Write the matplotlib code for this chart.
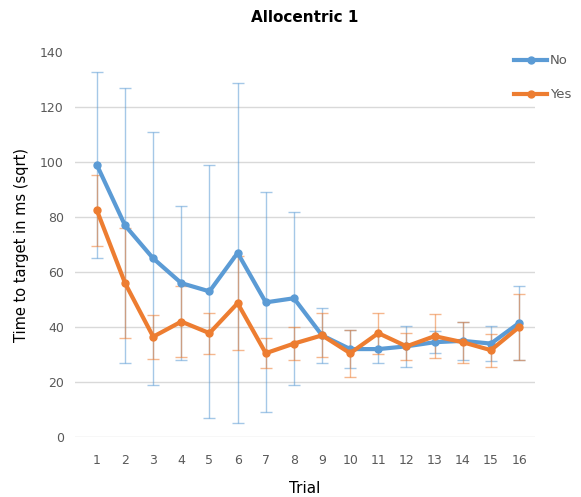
import matplotlib.pyplot as plt
from matplotlib.lines import Line2D

trials = list(range(1, 17))
no_mean = [99, 77, 65, 56, 53, 67, 49, 50.5, 37, 32, 32, 33, 34.5, 35, 34, 41.5]
no_err = [34, 50, 46, 28, 46, 62, 40, 31.5, 10, 7, 5, 7.5, 4, 7, 6.5, 13.5]
yes_mean = [82.5, 56, 36.5, 42, 37.8, 48.7, 30.5, 34, 37, 30.5, 37.8, 33, 36.7, 34.5, 31.6, 40]
yes_err = [13, 20, 8, 13, 7.5, 17, 5.5, 6, 8, 8.5, 7.5, 5, 8, 7.5, 6, 12]

blue = '#5B9BD5'
orange = '#ED7D31'

fig = plt.figure(figsize=(5.81, 4.97), dpi=100)
ax = fig.add_axes([0.129, 0.1207, 0.792, 0.774])

ax.errorbar(trials, no_mean, yerr=no_err, fmt='none', ecolor=blue, alpha=0.55,
            elinewidth=1, capsize=4, capthick=1)
ax.errorbar(trials, yes_mean, yerr=yes_err, fmt='none', ecolor=orange, alpha=0.55,
            elinewidth=1, capsize=4, capthick=1)
ax.plot(trials, no_mean, color=blue, lw=3, marker='o', ms=5, label='No')
ax.plot(trials, yes_mean, color=orange, lw=3, marker='o', ms=5, label='Yes')

ax.set_xlim(0.22, 16.57)
ax.set_ylim(0, 140)
ax.set_yticks(range(0, 141, 20))
ax.set_xticks(trials)
ax.grid(axis='y', color='#d9d9d9', lw=1)
ax.get_ygridlines()[-1].set_visible(False)
ax.set_axisbelow(True)
for s in ax.spines.values():
    s.set_visible(False)
ax.tick_params(length=0, labelsize=9, colors='#595959', pad=8)
ax.tick_params(axis='x', pad=12)

ax.set_title('Allocentric 1', fontsize=11, fontweight='bold', pad=22)
ax.set_xlabel('Trial', fontsize=11, labelpad=10)
ax.set_ylabel('Time to target in ms (sqrt)', fontsize=10.5, labelpad=8)

handles = [Line2D([], [], color=blue, lw=3, marker='o', ms=5),
           Line2D([], [], color=orange, lw=3, marker='o', ms=5)]
fig.legend(handles, ['No', 'Yes'], loc='upper left', bbox_to_anchor=(0.865, 0.915),
           frameon=False, fontsize=9.5, handlelength=2.5, handletextpad=0.2,
           labelspacing=1.6, labelcolor='#595959')

fig.savefig('out.png', dpi=100)
